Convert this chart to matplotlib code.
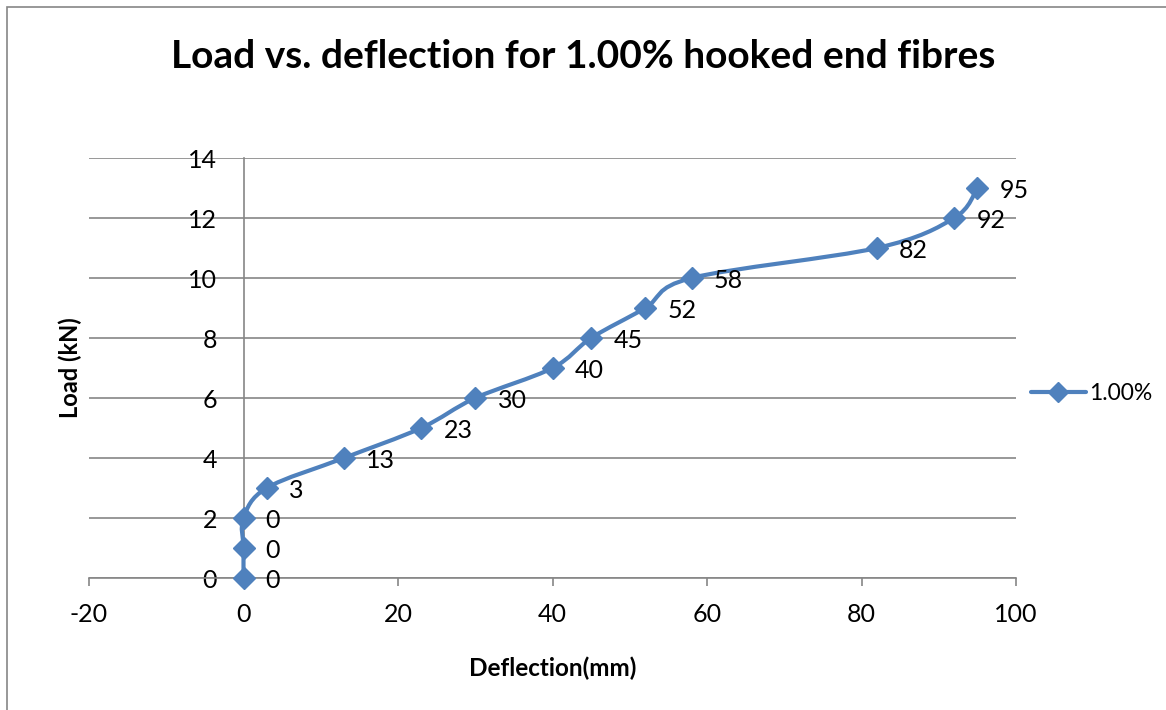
import matplotlib
matplotlib.use("Agg")
import matplotlib.pyplot as plt
from matplotlib.path import Path
from matplotlib.patches import PathPatch, Rectangle
from matplotlib.lines import Line2D

plt.rcParams['font.family'] = ['Lato', 'DejaVu Sans']
plt.rcParams['axes.unicode_minus'] = False

# data
deflection = [0, 0, 0, 3, 13, 23, 30, 40, 45, 52, 58, 82, 92, 95]
load = [0, 1, 2, 3, 4, 5, 6, 7, 8, 9, 10, 11, 12, 13]
series_name = "1.00%"
x_ticks = [-20, 0, 20, 40, 60, 80, 100]
y_ticks = [0, 2, 4, 6, 8, 10, 12, 14]

blue = '#4F81BD'
grey = '#868686'


def smooth_path(xs, ys):
    # excel style smoothed line: catmull-rom turned into cubic bezier pieces
    pts = list(zip(xs, ys))
    verts = [pts[0]]
    codes = [Path.MOVETO]
    n = len(pts)
    for i in range(n - 1):
        p0 = pts[i - 1] if i > 0 else pts[i]
        p1 = pts[i]
        p2 = pts[i + 1]
        p3 = pts[i + 2] if i + 2 < n else pts[i + 1]
        c1 = (p1[0] + (p2[0] - p0[0]) / 6, p1[1] + (p2[1] - p0[1]) / 6)
        c2 = (p2[0] - (p3[0] - p1[0]) / 6, p2[1] - (p3[1] - p1[1]) / 6)
        verts += [c1, c2, p2]
        codes += [Path.CURVE4] * 3
    return Path(verts, codes)


fig = plt.figure(figsize=(11.66, 7.10), dpi=100, facecolor='w')
ax = fig.add_axes([89 / 1166, 132 / 710, 927 / 1166, 420 / 710])

# chart area border
fig.patches.append(Rectangle((7 / 1166, -0.1), 1.2, 1.1 - 7 / 710, transform=fig.transFigure,
                             fill=False, edgecolor=grey, linewidth=1.2))

ax.set_xlim(-20, 100)
ax.set_ylim(0, 14)
ax.set_xticks(x_ticks)
ax.set_yticks(y_ticks)

for s in ['top', 'right']:
    ax.spines[s].set_visible(False)
ax.spines['left'].set_position(('data', 0))
ax.spines['left'].set_color(grey)
ax.spines['bottom'].set_color(grey)
ax.spines['left'].set_linewidth(1.2)
ax.spines['bottom'].set_linewidth(1.2)
ax.spines['bottom'].set_zorder(1)

ax.yaxis.grid(True, color=grey, linewidth=1.2)
ax.set_axisbelow(True)
ax.tick_params(axis='x', direction='out', length=6, width=1.2, color=grey, labelsize=18, pad=12)
ax.tick_params(axis='y', length=0, labelsize=18, pad=19)

ax.add_patch(PathPatch(smooth_path(deflection, load), facecolor='none', edgecolor=blue,
                       linewidth=3, capstyle='round', joinstyle='round', zorder=3))
ax.plot(deflection, load, linestyle='none', marker='D', markersize=11, color=blue,
        zorder=4, clip_on=False)

for x, y in zip(deflection, load):
    ax.annotate(str(x), (x, y), xytext=(16, -2), textcoords='offset points',
                ha='left', va='center', fontsize=18)

ax.set_xlabel('Deflection(mm)', fontsize=17.5, fontweight='bold', labelpad=22)
ax.set_ylabel('Load (kN)', fontsize=17, fontweight='bold')
ax.yaxis.label.set(ha='center', va='center', rotation_mode='default')
ax.yaxis.set_label_coords(70 / 1166, 1 - 368 / 710, transform=fig.transFigure)

handle = Line2D([], [], color=blue, linewidth=3, marker='D', markersize=10, solid_capstyle='round')
ax.legend([handle], [series_name], loc='center left', bbox_to_anchor=(1.006, 0.44),
          frameon=False, fontsize=16.5, handlelength=2.4, handletextpad=0.15, borderaxespad=0)

fig.text(583 / 1166, 1 - 57 / 710, 'Load vs. deflection for 1.00% hooked end fibres',
         ha='center', va='center', fontsize=28, fontweight='bold')

fig.savefig('out.png', dpi=100, facecolor='w')
